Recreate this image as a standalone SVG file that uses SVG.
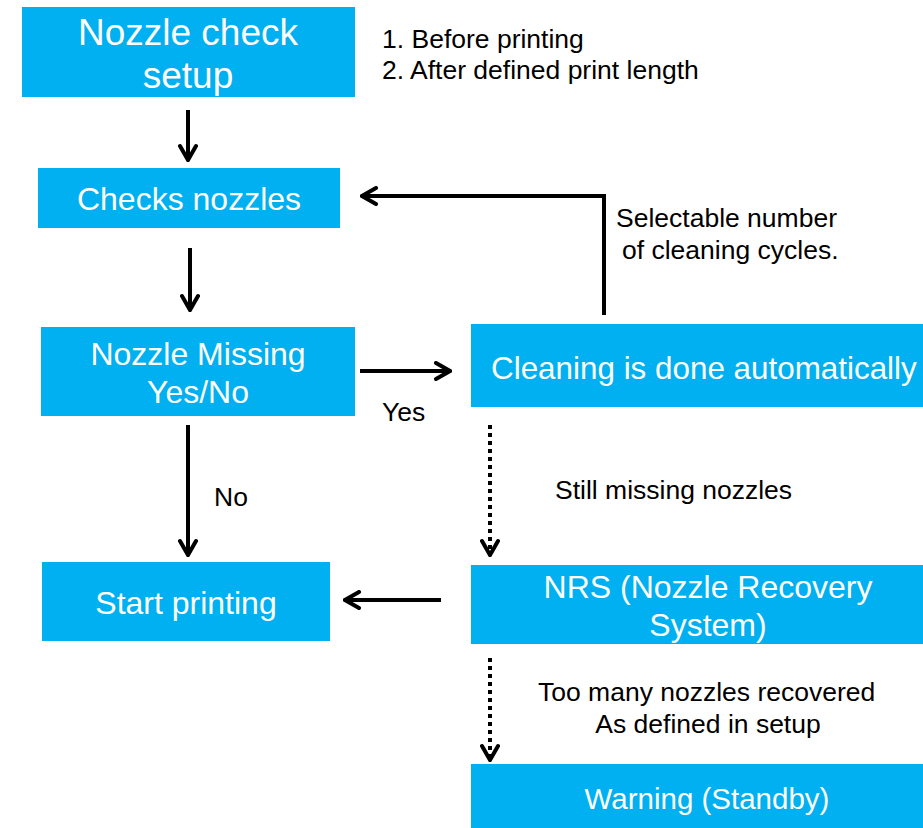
<svg xmlns="http://www.w3.org/2000/svg" width="923" height="828" viewBox="0 0 923 828">
<style>
.box{fill:#00B0F0}
.bt{font-family:"Liberation Sans",Arial,sans-serif;font-size:32px;fill:#fff;text-anchor:middle}
.st{font-family:"Liberation Sans",Arial,sans-serif;font-size:26.5px;fill:#000}
.ln{stroke:#000;stroke-width:4;fill:none}
.dt{stroke:#000;stroke-width:4;fill:none;stroke-dasharray:4 4}
</style>
<defs>
<marker id="ah" viewBox="0 0 10 10" refX="9" refY="5" markerWidth="5" markerHeight="5" orient="auto" markerUnits="strokeWidth">
<polyline points="2,1 9,5 2,9" fill="none" stroke="#000" stroke-width="2" stroke-linecap="round" stroke-linejoin="miter"/>
</marker>
</defs>
<g id="n1"><rect class="box" x="22" y="7" width="333" height="90"/><text class="bt" x="188" y="45" style="font-size:37px">Nozzle check</text><text class="bt" x="188" y="88" style="font-size:37px">setup</text></g>
<g id="n2"><rect class="box" x="38" y="168" width="302" height="60"/><text class="bt" x="189" y="210">Checks nozzles</text></g>
<g id="n3"><rect class="box" x="41" y="327" width="314" height="89"/><text class="bt" x="198" y="365">Nozzle Missing</text><text class="bt" x="198" y="403">Yes/No</text></g>
<g id="n4"><rect class="box" x="42" y="562" width="288" height="79"/><text class="bt" x="186" y="614">Start printing</text></g>
<g id="n5"><rect class="box" x="471" y="324" width="452" height="83"/><text class="bt" x="491" y="379" style="text-anchor:start;font-size:31.4px">Cleaning is done automatically</text></g>
<g id="n6"><rect class="box" x="471" y="565" width="452" height="79"/><text class="bt" x="708" y="598">NRS (Nozzle Recovery</text><text class="bt" x="708" y="636">System)</text></g>
<g id="n7"><rect class="box" x="471" y="764" width="452" height="64"/><text class="bt" x="707" y="809" style="font-size:29.5px">Warning (Standby)</text></g>
<g id="labels">
<text class="st" x="382" y="48">1. Before printing</text>
<text class="st" x="382" y="79">2. After defined print length</text>
<text class="st" x="616" y="227">Selectable number</text>
<text class="st" x="622" y="259">of cleaning cycles.</text>
<text class="st" x="382" y="421">Yes</text>
<text class="st" x="214" y="506">No</text>
<text class="st" x="555" y="499">Still missing nozzles</text>
<text class="st" x="538" y="701">Too many nozzles recovered</text>
<text class="st" x="708" y="733" style="text-anchor:middle">As defined in setup</text>
</g>
<g id="connectors">
<line class="ln" x1="188" y1="110" x2="188" y2="160" marker-end="url(#ah)"/>
<line class="ln" x1="190" y1="248" x2="190" y2="310" marker-end="url(#ah)"/>
<line class="ln" x1="360" y1="371" x2="450" y2="371" marker-end="url(#ah)"/>
<line class="ln" x1="188" y1="425" x2="188" y2="555" marker-end="url(#ah)"/>
<polyline class="ln" points="604,315 604,196 362,196" marker-end="url(#ah)"/>
<line class="dt" x1="490" y1="425" x2="490" y2="555" marker-end="url(#ah)"/>
<line class="ln" x1="441" y1="600" x2="345" y2="600" marker-end="url(#ah)"/>
<line class="dt" x1="490" y1="658" x2="490" y2="760" marker-end="url(#ah)"/>
</g>
</svg>
